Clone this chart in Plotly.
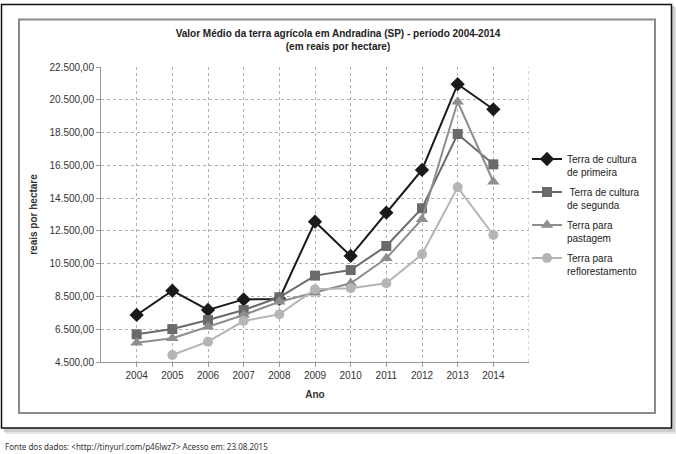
import plotly.graph_objects as go

# Valor médio da terra agrícola em Andradina (SP), reais por hectare
anos = [2004, 2005, 2006, 2007, 2008, 2009, 2010, 2011, 2012, 2013, 2014]
primeira = [7370, 8850, 7680, 8320, 8350, 13060, 10970, 13610, 16220, 21450, 19920]
segunda = [6190, 6510, 7060, 7670, 8450, 9770, 10110, 11580, 13880, 18410, 16560]
pastagem = [5680, 5950, 6650, 7370, 8180, 8730, 9300, 10830, 13210, 20380, 15500]
reflorestamento = [None, 4930, 5740, 7000, 7410, 8940, 9000, 9300, 11070, 15160, 12250]

y_ticks = [4500, 6500, 8500, 10500, 12500, 14500, 16500, 18500, 20500, 22500]
y_labels = ["4.500,00", "6.500,00", "8.500,00", "10.500,00", "12.500,00",
            "14.500,00", "16.500,00", "18.500,00", "20.500,00", "22.500,00"]

W, H = 676, 454
L, R, T, B = 101, 147, 67, 92


def px(x):
    return (x - L) / (W - L - R)


def py(y):
    return (H - B - y) / (H - T - B)


series = [
    ("Terra de cultura<br>de primeira", primeira, "#1a1a1a", "diamond", 11),
    (" Terra de cultura<br>de segunda", segunda, "#6a6a6a", "square", 10),
    ("Terra para<br>pastagem", pastagem, "#8e8e8e", "triangle-up", 11),
    ("Terra para<br>reflorestamento", reflorestamento, "#b5b5b5", "circle", 10),
]

fig = go.Figure()
for i, (name, vals, color, symbol, size) in enumerate(series):
    fig.add_trace(go.Scatter(
        x=anos, y=vals, name=name, mode="lines+markers", legendgroup=str(i),
        line=dict(color=color, width=2),
        marker=dict(symbol=symbol, size=size, color=color),
    ))


def rect(x0, y0, x1, y1, **kw):
    return dict(type="rect", xref="paper", yref="paper",
                x0=px(x0), x1=px(x1), y0=py(y0), y1=py(y1), layer="below", **kw)


# moldura com sombra
shapes = [
    rect(5, 7, 676, 434, fillcolor="#e6e6e6", line_width=0),
    rect(4, 6, 675, 432, fillcolor="#cccccc", line_width=0),
    rect(1.5, 4.5, 671.5, 428, fillcolor="white", line=dict(color="#111111", width=1.5)),
    rect(19, 19.5, 655, 413, fillcolor="rgba(0,0,0,0)", line=dict(color="#8a8a8a", width=2)),
    # grade vertical na borda direita
    dict(type="line", xref="x", yref="y", x0=2015, x1=2015, y0=4500, y1=22500,
         line=dict(color="#b0b0b0", width=1, dash="dot")),
]

grid = dict(gridcolor="#b0b0b0", griddash="dot", gridwidth=1)

fig.update_layout(
    width=W, height=H,
    margin=dict(l=L, r=R, t=T, b=B),
    paper_bgcolor="white",
    plot_bgcolor="rgba(0,0,0,0)",
    font=dict(family="Liberation Sans, Arial", size=10, color="#333333"),
    title=dict(
        text="<b>Valor Médio da terra agrícola em Andradina (SP) - período 2004-2014<br>(em reais por hectare)</b>",
        x=0.5, xanchor="center", y=1 - 37 / H, yanchor="top",
        font=dict(family="Liberation Sans, Arial", size=10, color="#222222"),
    ),
    xaxis=dict(
        range=[2003, 2015], tickvals=anos, ticks="outside", ticklen=4,
        tickcolor="#999999", showline=True, linecolor="#999999", linewidth=1,
        title=dict(text="<b>Ano</b>", standoff=10, font=dict(size=10, color="#333333")),
        zeroline=False, **grid,
    ),
    yaxis=dict(
        range=[4500, 22500], tickvals=y_ticks, ticktext=y_labels, ticks="outside",
        ticklen=4, tickcolor="#999999", showline=True, linecolor="#999999", linewidth=1,
        title=dict(text="<b>reais por hectare</b>", standoff=10, font=dict(size=10, color="#333333")),
        zeroline=False, **grid,
    ),
    legend=dict(
        x=px(527), y=py(146), xanchor="left", yanchor="top",
        valign="top", bgcolor="rgba(0,0,0,0)",
        font=dict(size=10, color="#222222"),
        tracegroupgap=4,
    ),
    shapes=shapes,
    annotations=[dict(
        text="Fonte dos dados: &lt;http://tinyurl.com/p46lwz7&gt; Acesso em: 23.08.2015",
        xref="paper", yref="paper", x=px(3), y=py(446), xanchor="left", yanchor="middle",
        showarrow=False, font=dict(family="Noto Sans", size=8, color="#333333"),
    )],
)

fig.write_html("out.html", config={"displayModeBar": False},
               post_script="document.body.style.margin='0';")
